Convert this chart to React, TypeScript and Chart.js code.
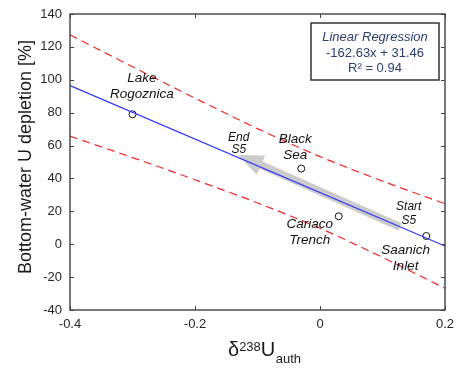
import React, { useEffect, useRef } from "react";
import { Chart, registerables } from "chart.js";

Chart.register(...registerables);

// ---- data ----
const sampleNames = ["Lake Rogoznica", "Black Sea", "Cariaco Trench", "Saanich Inlet"];
const sampleX = [-0.30, -0.03, 0.03, 0.17];
const sampleY = [79, 46, 17, 5];

const regX = [-0.4, 0.2];
const regY = [96.5, -1.1];

const bandX = [-0.4, -0.3, -0.2, -0.1, 0, 0.1, 0.2];
const bandUpper = [127.3, 107.9, 88.8, 70.3, 53.3, 38.4, 24.6];
const bandLower = [65.7, 52.7, 39.2, 25.1, 9.7, -8.0, -26.8];

const arrowX = [0.128, -0.131];
const arrowY = [10.5, 54.3];

const xTicks = [-0.4, -0.2, 0, 0.2];
const xTickLabels = ["-0.4", "-0.2", "0", "0.2"];
const yTicks = [-40, -20, 0, 20, 40, 60, 80, 100, 120, 140];
const yTickLabels = ["-40", "-20", "0", "20", "40", "60", "80", "100", "120", "140"];

const noteLines = [["Lake", "Rogoznica"], ["End", "S5"], ["Black", "Sea"], ["Cariaco", "Trench"], ["Start", "S5"], ["Saanich", "Inlet"]];
const noteX = [-0.285, -0.13, -0.0395, -0.0163, 0.142, 0.137];
const noteY = [98.9, 62.8, 61.7, 10.0, 20.8, -6.0];

const boxLines = ["Linear Regression", "-162.63x + 31.46", "R\u00B2 = 0.94"];

const FONT = "'Liberation Sans', Arial, Helvetica, sans-serif";

const noteSize = [13.5, 12, 13.5, 13.5, 12, 13.5];
const noteGap = [16.6, 12.5, 16.6, 16.6, 13.5, 16.2];

const overlay = {
  id: "overlay",
  beforeDatasetsDraw(chart: any) {
    const { ctx, scales } = chart;
    const xs = scales.x, ys = scales.y;
    const x0 = xs.getPixelForValue(arrowX[0]), y0 = ys.getPixelForValue(arrowY[0]);
    const x1 = xs.getPixelForValue(arrowX[1]), y1 = ys.getPixelForValue(arrowY[1]);
    const dx = x1 - x0, dy = y1 - y0;
    const len = Math.hypot(dx, dy);
    const ux = dx / len, uy = dy / len;
    const nx = -uy, ny = ux;
    const headLen = 25, headHalf = 10.5;
    const bx = x1 - ux * headLen, by = y1 - uy * headLen;
    ctx.save();
    ctx.fillStyle = "rgba(200,200,200,0.95)";
    ctx.strokeStyle = "rgba(200,200,200,0.95)";
    ctx.lineWidth = 8;
    ctx.lineCap = "butt";
    ctx.beginPath();
    ctx.moveTo(x0, y0);
    ctx.lineTo(bx + ux * 1, by + uy * 1);
    ctx.stroke();
    ctx.beginPath();
    ctx.moveTo(x1, y1);
    ctx.lineTo(bx + nx * headHalf, by + ny * headHalf);
    ctx.lineTo(bx - nx * headHalf, by - ny * headHalf);
    ctx.closePath();
    ctx.fill();
    ctx.restore();
  },
  afterDatasetsDraw(chart: any) {
    const { ctx, chartArea, scales } = chart;
    const xs = scales.x, ys = scales.y;
    const { left, right, top, bottom } = chartArea;
    ctx.save();
    // notes
    ctx.fillStyle = "#111";
    ctx.textAlign = "center";
    ctx.textBaseline = "alphabetic";
    noteLines.forEach((lines, i) => {
      const px = xs.getPixelForValue(noteX[i]);
      const py = ys.getPixelForValue(noteY[i]);
      ctx.font = `italic ${noteSize[i]}px ${FONT}`;
      lines.forEach((t, j) => ctx.fillText(t, px, py + j * noteGap[i]));
    });
    // frame
    ctx.strokeStyle = "#404040";
    ctx.lineWidth = 1.4;
    ctx.strokeRect(left, top, right - left, bottom - top);
    ctx.lineWidth = 1;
    ctx.beginPath();
    xTicks.forEach((v) => {
      const p = Math.round(xs.getPixelForValue(v)) + 0.5;
      ctx.moveTo(p, bottom); ctx.lineTo(p, bottom - 4);
      ctx.moveTo(p, top); ctx.lineTo(p, top + 4);
    });
    yTicks.forEach((v) => {
      const p = Math.round(ys.getPixelForValue(v)) + 0.5;
      ctx.moveTo(left, p); ctx.lineTo(left + 4, p);
      ctx.moveTo(right, p); ctx.lineTo(right - 4, p);
    });
    ctx.stroke();
    // regression box
    const bw = 128, bh = 57;
    const bl = right - 134, bt = top + 9;
    ctx.fillStyle = "#fff";
    ctx.fillRect(bl, bt, bw, bh);
    ctx.strokeStyle = "#262626";
    ctx.lineWidth = 1.4;
    ctx.strokeRect(bl, bt, bw, bh);
    ctx.fillStyle = "#2b3c70";
    ctx.textAlign = "center";
    const cx = bl + bw / 2;
    ctx.font = `italic 13px ${FONT}`;
    ctx.fillText(boxLines[0], cx, bt + 18);
    ctx.font = `13px ${FONT}`;
    ctx.fillText(boxLines[1], cx, bt + 33.5);
    ctx.fillText(boxLines[2], cx, bt + 48.5);
    ctx.restore();
  },
  afterDraw(chart: any) {
    const { ctx, chartArea } = chart;
    ctx.save();
    ctx.fillStyle = "#1a1a1a";
    // y title
    ctx.translate(31, (chartArea.top + chartArea.bottom) / 2 - 5);
    ctx.rotate(-Math.PI / 2);
    ctx.font = `18px ${FONT}`;
    ctx.textAlign = "center";
    ctx.textBaseline = "alphabetic";
    ctx.fillText("Bottom-water U depletion [%]", 0, 0);
    ctx.restore();
    // x title
    ctx.save();
    ctx.fillStyle = "#1a1a1a";
    ctx.textAlign = "left";
    ctx.textBaseline = "alphabetic";
    let x = chartArea.left + 158;
    const base = chartArea.bottom + 45.5;
    ctx.font = `20px ${FONT}`;
    ctx.fillText("\u03B4", x, base);
    x += ctx.measureText("\u03B4").width;
    ctx.font = `13px ${FONT}`;
    ctx.fillText("238", x, base - 4.5);
    x += ctx.measureText("238").width;
    ctx.font = `20px ${FONT}`;
    ctx.fillText("U", x, base);
    x += ctx.measureText("U").width + 0.5;
    ctx.font = `13px ${FONT}`;
    ctx.fillText("auth", x, base + 7);
    ctx.restore();
  },
};

const zeroPad = (s: any) => {
  s.paddingLeft = 0;
  s.paddingRight = 0;
  s.paddingTop = 0;
  s.paddingBottom = 0;
};

export default function App() {
  const ref = useRef<HTMLCanvasElement | null>(null);
  useEffect(() => {
    document.body.style.margin = "0";
    document.body.style.overflow = "hidden";
    const canvas = ref.current!;
    const chart = new Chart(canvas, {
      type: "line",
      data: {
        datasets: [
          {
            type: "line",
            label: "upper",
            data: bandX.map((x, i) => ({ x, y: bandUpper[i] })),
            borderColor: "rgb(240,40,40)",
            borderWidth: 1.2,
            borderDash: [8, 5],
            pointRadius: 0,
            tension: 0.4,
            cubicInterpolationMode: "monotone",
            fill: false,
          },
          {
            type: "line",
            label: "lower",
            data: bandX.map((x, i) => ({ x, y: bandLower[i] })),
            borderColor: "rgb(240,40,40)",
            borderWidth: 1.2,
            borderDash: [8, 5],
            pointRadius: 0,
            tension: 0.4,
            cubicInterpolationMode: "monotone",
            fill: false,
          },
          {
            type: "line",
            label: "regression",
            data: regX.map((x, i) => ({ x, y: regY[i] })),
            borderColor: "rgb(35,45,255)",
            borderWidth: 1.2,
            pointRadius: 0,
            fill: false,
          },
          {
            type: "scatter",
            label: "samples",
            data: sampleX.map((x, i) => ({ x, y: sampleY[i], name: sampleNames[i] })) as any,
            pointRadius: 3.5,
            pointBorderWidth: 1,
            pointBorderColor: "#111",
            pointBackgroundColor: "#fff",
            showLine: false,
          },
        ],
      },
      options: {
        animation: false,
        responsive: false,
        maintainAspectRatio: false,
        devicePixelRatio: 1,
        layout: { padding: { top: 14, right: 12, left: 0, bottom: 0 } },
        plugins: { legend: { display: false }, tooltip: { enabled: false } },
        scales: {
          x: {
            type: "linear",
            min: -0.4,
            max: 0.2,
            afterBuildTicks: (s: any) => { s.ticks = xTicks.map((v) => ({ value: v })); },
            afterFit: (s: any) => { s.height = 63; zeroPad(s); },
            grid: { display: false, drawTicks: false },
            border: { display: false },
            ticks: {
              autoSkip: false,
              maxRotation: 0,
              padding: 7,
              color: "#262626",
              font: { size: 13, family: FONT },
              callback: (v: any) => { const i = xTicks.indexOf(v); return i >= 0 ? xTickLabels[i] : ""; },
            },
          },
          y: {
            type: "linear",
            min: -40,
            max: 140,
            afterBuildTicks: (s: any) => { s.ticks = yTicks.map((v) => ({ value: v })); },
            afterFit: (s: any) => { s.width = 70; zeroPad(s); },
            grid: { display: false, drawTicks: false },
            border: { display: false },
            ticks: {
              autoSkip: false,
              padding: 8,
              color: "#262626",
              font: { size: 13, family: FONT },
              callback: (v: any) => { const i = yTicks.indexOf(v); return i >= 0 ? yTickLabels[i] : ""; },
            },
          },
        },
      },
      plugins: [overlay],
    } as any);
    return () => chart.destroy();
  }, []);
  return (
    <canvas ref={ref} width={457} height={373} style={{ display: "block", width: 457, height: 373 }} />
  );
}
